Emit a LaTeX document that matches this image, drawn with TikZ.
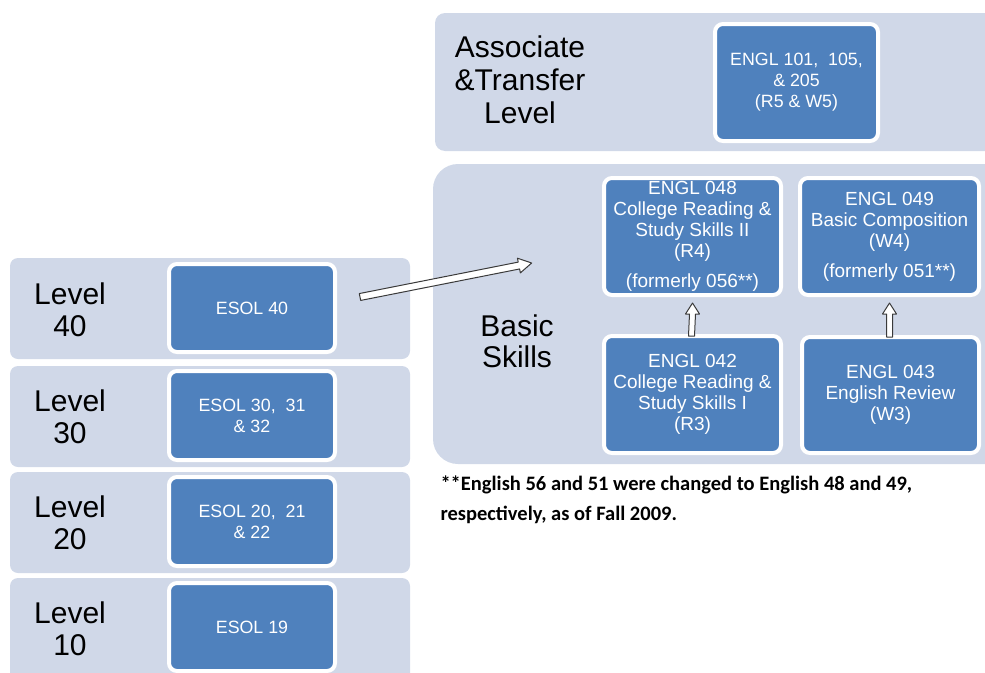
\documentclass[tikz,border=0pt]{standalone}
\usepackage{fontspec}
\setmainfont{Liberation Sans}
\newfontfamily\notefont{Carlito}
\usetikzlibrary{calc}
\definecolor{bandcol}{HTML}{D0D8E8}
\definecolor{boxblue}{HTML}{4F81BD}
\definecolor{arrowline}{HTML}{3A3A3A}
\tikzset{
  band/.style={fill=bandcol, draw=none},
  course/.style={draw=white, line width=4pt, fill=boxblue, rounded corners=8pt,
    text=white, align=center, inner sep=0pt},
  bigcourse/.style={course, font=\fontsize{19}{21}\selectfont},
  smallcourse/.style={course, font=\fontsize{17.8}{21}\selectfont},
  levellabel/.style={align=center, text=black, font=\fontsize{30}{32}\selectfont},
  hollow/.style={draw=arrowline, line width=1pt, fill=white, line join=round},
  footnote/.style={align=left, anchor=west, text=black, font=\notefont\bfseries\fontsize{20.5}{30}\selectfont}
}
\begin{document}
\begin{tikzpicture}[x=1pt, y=-1pt]
\useasboundingbox (0,0) rectangle (985,672);
% bands
\fill[band, rounded corners=10pt] (435,13) rectangle (1010,151);
\fill[band, rounded corners=25pt] (433,164) rectangle (1010,464);
\fill[band, rounded corners=8pt] (10,258) rectangle (410,359);
\fill[band, rounded corners=8pt] (10,366) rectangle (410,467);
\fill[band, rounded corners=8pt] (10,472) rectangle (410,573);
\fill[band, rounded corners=8pt] (10,578) rectangle (410,700);
% band labels
\node[levellabel, font=\fontsize{30}{33}\selectfont] (assoc) at (520,80) {Associate\\\&Transfer\\Level};
\node[levellabel, font=\fontsize{30}{31}\selectfont] (basic) at (517,341) {Basic\\Skills};
\node[levellabel] (l40) at (70,310) {Level\\40};
\node[levellabel] (l30) at (70,417) {Level\\30};
\node[levellabel] (l20) at (70,523) {Level\\20};
\node[levellabel] (l10) at (70,629) {Level\\10};
% course boxes
\node[smallcourse, minimum width=163pt, minimum height=117pt] (e101) at (796.5,82.5) {ENGL 101,\ \ 105,\\\& 205\\(R5 \& W5)};
\node[bigcourse, minimum width=177pt, minimum height=117pt] (e048) at (692.5,236.5) {ENGL 048\\College Reading \&\\Study Skills II\\(R4)\\[9pt](formerly 056**)};
\node[bigcourse, minimum width=179pt, minimum height=117pt] (e049) at (889.5,236.5) {ENGL 049\\Basic Composition\\(W4)\\[9pt](formerly 051**)};
\node[bigcourse, minimum width=177pt, minimum height=117pt] (e042) at (692.5,394.5) {ENGL 042\\College Reading \&\\Study Skills I\\(R3)};
\node[bigcourse, minimum width=177pt, minimum height=116pt] (e043) at (890.5,395) {ENGL 043\\English Review\\(W3)};
\node[smallcourse, minimum width=166pt, minimum height=88pt] (s40) at (252,308) {ESOL 40};
\node[smallcourse, minimum width=166pt, minimum height=89pt] (s30) at (252,415.5) {ESOL 30,\ \ 31\\\& 32};
\node[smallcourse, minimum width=166pt, minimum height=89pt] (s20) at (252,521.5) {ESOL 20,\ \ 21\\\& 22};
\node[smallcourse, minimum width=166pt, minimum height=88pt] (s19) at (252,627) {ESOL 19};
% up arrows
\foreach \lo/\hi in {e042/e048, e043/e049}{
  \draw[hollow] ($(\lo.north)+(-4,2)$) -- ($(\hi.south)+(-3,17)$) -- ($(\hi.south)+(-7,17)$)
    -- ($(\hi.south)+(0,6)$) -- ($(\hi.south)+(7,17)$) -- ($(\hi.south)+(3,17)$)
    -- ($(\lo.north)+(2,2)$) -- cycle;
}
% diagonal arrow
\coordinate (atail) at (360,297);
\coordinate (ahead) at (532,263);
\begin{scope}[shift={(atail)}, rotate=11.2]
  \draw[hollow] (0,-3.5) -- (162,-3.5) -- (162,-7.5) -- (175,0) -- (162,7.5) -- (162,3.5) -- (0,3.5) -- cycle;
\end{scope}
% footnote
\node[footnote] (note) at (437,500) {**English 56 and 51 were changed to English 48 and 49,\\respectively, as of Fall 2009.};
\end{tikzpicture}
\end{document}
